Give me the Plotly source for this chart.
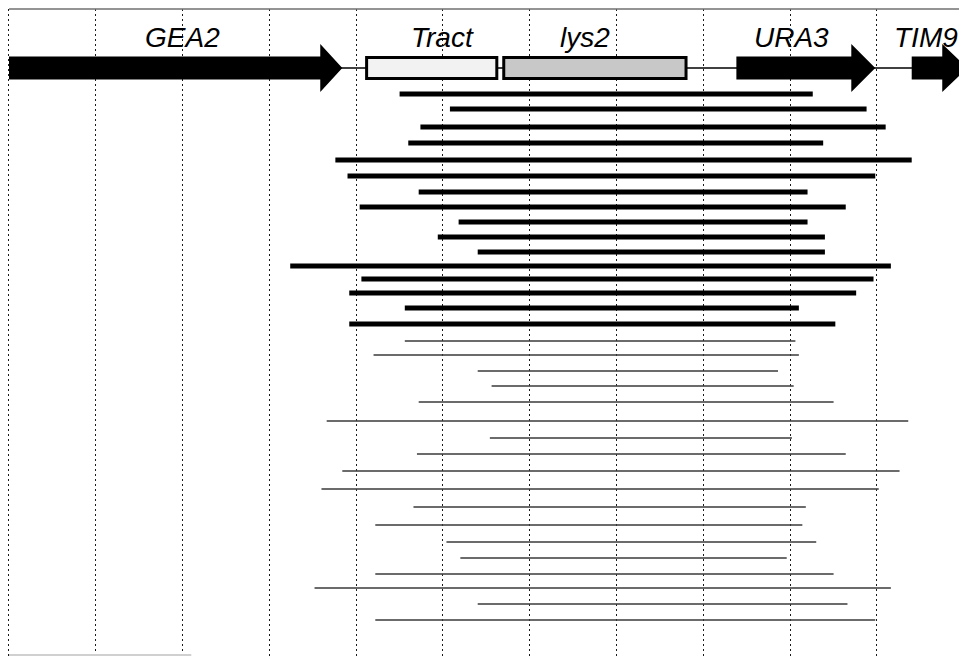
import plotly.graph_objects as go

# ---- data (positions in kb; row positions in track units) ----
thick_start = [2.25, 2.54, 2.37, 2.30, 1.88, 1.95, 2.36, 2.02, 2.59, 2.47, 2.70, 1.62, 2.03, 1.96, 2.28, 1.96]
thick_end   = [4.63, 4.94, 5.05, 4.69, 5.20, 4.99, 4.60, 4.82, 4.60, 4.70, 4.70, 5.08, 4.98, 4.88, 4.55, 4.76]
thick_row   = [94, 109, 127, 143, 160, 176, 192, 207, 222, 237, 252, 266, 279, 293, 308, 324]

thin_start = [2.28, 2.10, 2.70, 2.78, 2.36, 1.83, 2.77, 2.35, 1.92, 1.80, 2.33, 2.11, 2.52, 2.60, 2.11, 1.76, 2.70, 2.11]
thin_end   = [4.53, 4.55, 4.43, 4.52, 4.75, 5.18, 4.51, 4.82, 5.13, 5.01, 4.59, 4.57, 4.65, 4.48, 4.75, 5.08, 4.83, 4.99]
thin_row   = [341, 355, 371, 386, 402, 421, 438, 454, 471, 489, 507, 525, 542, 558, 574, 588, 604, 620]

gene_names = ["GEA2", "URA3", "TIM9"]
gene_start = [0.0, 4.19, 5.20]
gene_end   = [1.92, 4.99, 5.52]
gene_head  = [0.127, 0.138, 0.144]

box_names = ["Tract", "lys2"]
box_start = [2.06, 2.85]
box_end   = [2.81, 3.90]
box_fill  = ["#f2f2f2", "#c8c8c8"]

label_text = ["GEA2", "Tract", "lys2", "URA3", "TIM9"]
label_x    = [1.0, 2.50, 3.32, 4.51, 5.28]

TRACK_Y = 68
X_MIN, X_MAX = -0.0518, 5.4724

fig = go.Figure()

# baseline of the locus
fig.add_trace(go.Scatter(x=[0, X_MAX], y=[TRACK_Y, TRACK_Y], mode="lines",
                         line=dict(color="black", width=1.5), hoverinfo="skip", showlegend=False))

# gene arrows
for s, e, h in zip(gene_start, gene_end, gene_head):
    b = 11.5
    hh = 24
    xs = [s, e - h, e - h, e, e - h, e - h, s, s]
    ys = [TRACK_Y - b, TRACK_Y - b, TRACK_Y - hh, TRACK_Y, TRACK_Y + hh, TRACK_Y + b, TRACK_Y + b, TRACK_Y - b]
    fig.add_trace(go.Scatter(x=xs, y=ys, mode="lines", fill="toself", fillcolor="black",
                             line=dict(color="black", width=0), hoverinfo="skip", showlegend=False))

# thick tracts
tx, ty = [], []
for s, e, r in zip(thick_start, thick_end, thick_row):
    tx += [s, e, None]
    ty += [r, r, None]
fig.add_trace(go.Scatter(x=tx, y=ty, mode="lines", line=dict(color="black", width=5),
                         hoverinfo="skip", showlegend=False))

# thin tracts
nx, ny = [], []
for s, e, r in zip(thin_start, thin_end, thin_row):
    nx += [s, e, None]
    ny += [r, r, None]
fig.add_trace(go.Scatter(x=nx, y=ny, mode="lines", line=dict(color="#3a3a3a", width=1.5),
                         hoverinfo="skip", showlegend=False))

shapes = []
for s, e, f in zip(box_start, box_end, box_fill):
    shapes.append(dict(type="rect", xref="x", yref="y", x0=s, x1=e, y0=TRACK_Y - 10.5, y1=TRACK_Y + 10.5,
                       fillcolor=f, line=dict(color="black", width=3), layer="above"))
# top frame line
shapes.append(dict(type="line", xref="x", yref="paper", x0=0, x1=X_MAX, y0=1, y1=1,
                   line=dict(color="#707070", width=1.5)))
# faint bottom line fragment
shapes.append(dict(type="line", xref="x", yref="y", x0=0, x1=1.05, y0=655, y1=655,
                   line=dict(color="#d0d0d0", width=2)))

annotations = []
for t, x in zip(label_text, label_x):
    annotations.append(dict(x=x, y=37, xref="x", yref="y", text="<i>" + t + "</i>", showarrow=False,
                            font=dict(family="Liberation Sans, Arial, sans-serif", size=28, color="black"),
                            xanchor="center", yanchor="middle"))

fig.update_layout(
    width=959, height=656,
    margin=dict(l=0, r=0, t=9, b=0),
    paper_bgcolor="white", plot_bgcolor="white",
    shapes=shapes, annotations=annotations,
    showlegend=False,
    xaxis=dict(range=[X_MIN, X_MAX], showgrid=True, gridcolor="#1a1a1a", gridwidth=1,
               griddash="1.5px,3.5px", tick0=0, dtick=0.5, showticklabels=False, zeroline=False,
               showline=False, ticks=""),
    yaxis=dict(range=[656, 9], showgrid=False, showticklabels=False, zeroline=False,
               showline=False, ticks=""),
)

fig.write_html("out.html", config={"displayModeBar": False},
               post_script="document.body.style.margin='0px';document.body.style.overflow='hidden';")
